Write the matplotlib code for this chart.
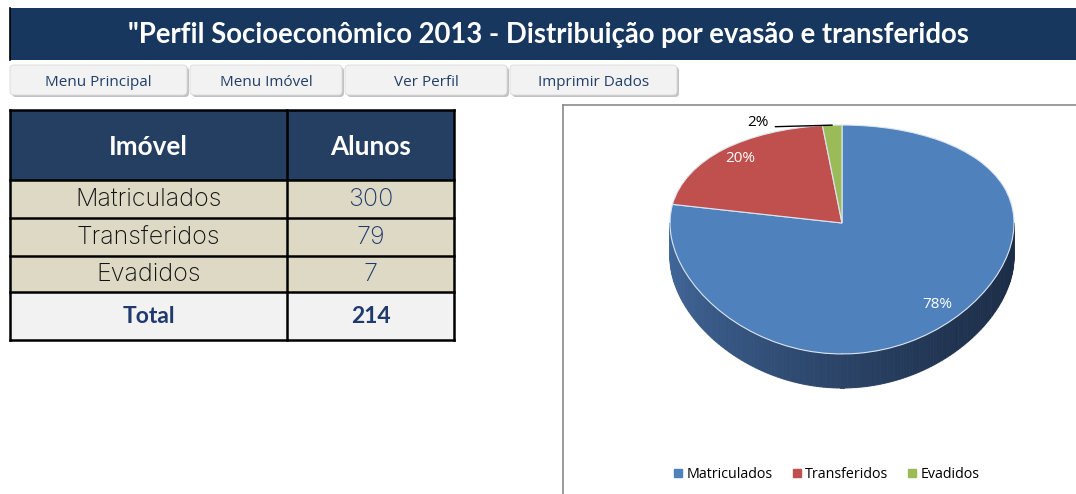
import numpy as np
import matplotlib
matplotlib.use("Agg")
import matplotlib.pyplot as plt
from matplotlib.patches import Rectangle, FancyBboxPatch
from matplotlib.collections import PolyCollection
from matplotlib.lines import Line2D
from matplotlib.colors import to_rgb

# --- data -------------------------------------------------------------
title = '"Perfil Socioeconômico 2013 - Distribuição por evasão e transferidos'
buttons = ["Menu Principal", "Menu Imóvel", "Ver Perfil", "Imprimir Dados"]
header = ["Imóvel", "Alunos"]
categories = ["Matriculados", "Transferidos", "Evadidos"]
alunos = [300, 79, 7]
total_label = "Total"
total_value = 214
colors = ["#4f81bd", "#c0504d", "#9bbb59"]

W, H = 1076, 494
fig = plt.figure(figsize=(W / 100, H / 100), dpi=100)

# background axes in pixel units for the sheet decoration
bg = fig.add_axes([0, 0, 1, 1])
bg.set_xlim(0, W)
bg.set_ylim(H, 0)
bg.axis("off")

# title bar
bg.add_patch(Rectangle((10, 8), W - 10, 52, facecolor="#17375e", edgecolor="none"))
bg.plot([9.5, 9.5], [8, 60], color="black", lw=1.2)
bg.text(548, 35, title, color="white", fontsize=19.8, fontweight="bold",
        family="Lato", ha="center", va="center")

# buttons
btn_x = [10, 190, 345, 510]
btn_w = [177, 152, 162, 167]
for x, w, label in zip(btn_x, btn_w, buttons):
    bg.add_patch(FancyBboxPatch((x + 2, 67), w, 30, boxstyle="round,pad=0,rounding_size=4",
                                facecolor="#c2c2c2", edgecolor="none"))
    bg.add_patch(FancyBboxPatch((x, 65), w, 30, boxstyle="round,pad=0,rounding_size=4",
                                facecolor="#f2f2f2", edgecolor="#dadada", lw=0.6))
    bg.text(x + w / 2, 82, label, color="#213f68", fontsize=11, family="Open Sans",
            ha="center", va="center")

# table
col_x = [10, 287, 454]
row_y = [110, 180, 218, 256, 292, 340]
fills = ["#243f61", "#ddd9c4", "#ddd9c4", "#ddd9c4", "#f2f2f2"]
for i, fc in enumerate(fills):
    bg.add_patch(Rectangle((col_x[0], row_y[i]), col_x[-1] - col_x[0], row_y[i + 1] - row_y[i],
                           facecolor=fc, edgecolor="none"))
for y in row_y:
    bg.plot([col_x[0], col_x[-1]], [y, y], color="black", lw=1.8, solid_capstyle="projecting")
for x in col_x:
    bg.plot([x, x], [row_y[0], row_y[-1]], color="black", lw=1.8, solid_capstyle="projecting")

xc = [(col_x[0] + col_x[1]) / 2, (col_x[1] + col_x[2]) / 2]
yc = [(row_y[i] + row_y[i + 1]) / 2 for i in range(len(row_y) - 1)]
for x, h in zip(xc, header):
    bg.text(x, yc[0] + 2, h, color="white", fontsize=18.8, fontweight="bold", family="Lato",
            ha="center", va="center")
for i, (cat, val) in enumerate(zip(categories, alunos)):
    bg.text(xc[0], yc[i + 1], cat, color="#111111", fontsize=18, fontweight="light",
            family="Inter", ha="center", va="center")
    bg.text(xc[1], yc[i + 1], str(val), color="#1f3a6e", fontsize=18, fontweight="light",
            family="Inter", ha="center", va="center")
bg.text(xc[0], yc[4], total_label, color="#1f3a6e", fontsize=16.5, fontweight="bold",
        family="Lato", ha="center", va="center")
bg.text(xc[1], yc[4], str(total_value), color="#1f3a6e", fontsize=16.5, fontweight="bold",
        family="Lato", ha="center", va="center")

# --- pie chart with a tilted look ------------------------------------
box_left, box_top = 563, 105
cx_px, tip_px = 842, 223
rx_px, ry_px = 172, 112.1
b = 0.144
depth = 34 / ry_px


def fwd(y):
    return y / (1 + b * y)


def inv(f):
    return f / (1 - b * f)


ax = fig.add_axes([box_left / W, 0, (W - box_left) / W, (H - box_top) / H])
wedges, _ = ax.pie(alunos, colors=colors, startangle=90, counterclock=False, radius=1,
                   wedgeprops=dict(edgecolor="#dce5f0", linewidth=0.8), frame=False)
ax.set_aspect("auto")
ax.set_yscale("function", functions=(fwd, inv))
ax.set_xlim((box_left - cx_px) / rx_px, (W - cx_px) / rx_px)
ax.set_ylim(inv((tip_px - H) / ry_px), inv((tip_px - box_top) / ry_px))
ax.set_xticks([])
ax.set_yticks([])
ax.set_yticks([], minor=True)

# side of the pie (front half), shaded from left to right
t = np.linspace(np.pi, 2 * np.pi, 160)
left_c, right_c = np.array(to_rgb("#41679a")), np.array(to_rgb("#1c2d47"))
polys, pcols = [], []
for t0, t1 in zip(t[:-1], t[1:]):
    xs = [np.cos(t0), np.cos(t1), np.cos(t1), np.cos(t0)]
    ys = [np.sin(t0), np.sin(t1), inv(fwd(np.sin(t1)) - depth), inv(fwd(np.sin(t0)) - depth)]
    polys.append(list(zip(xs, ys)))
    s = ((np.cos((t0 + t1) / 2) + 1) / 2) ** 0.7
    pcols.append(left_c * (1 - s) + right_c * s)
ax.add_collection(PolyCollection(polys, facecolors=pcols, edgecolors=pcols, linewidths=0.6,
                                 zorder=0.5))
tb = np.linspace(np.pi, 2 * np.pi, 200)
ax.plot(np.cos(tb), inv(fwd(np.sin(tb)) - depth), color="#a8a8a8", lw=1.2, alpha=0.6, zorder=0.4)

total = sum(alunos)
for w, v in zip(wedges, alunos):
    pct = 100 * v / total
    mid = np.deg2rad((w.theta1 + w.theta2) / 2)
    if pct >= 5:
        ax.text(0.86 * np.cos(mid), 0.86 * np.sin(mid), f"{pct:.0f}%", color="white",
                fontsize=11, family="Open Sans", ha="center", va="center")
    else:
        ax.annotate(f"{pct:.0f}%", xy=(np.cos(mid), np.sin(mid)), xytext=(-46, 2),
                    textcoords="offset points", ha="right", va="center", fontsize=11,
                    family="Open Sans", color="black",
                    arrowprops=dict(arrowstyle="-", color="black", lw=1, shrinkA=3, shrinkB=0,
                                    relpos=(1, 0.2)))

ax.set_frame_on(True)
for side in ["right", "bottom"]:
    ax.spines[side].set_visible(False)
for side in ["left", "top"]:
    ax.spines[side].set_color("#8a8a8a")
    ax.spines[side].set_linewidth(1.2)

handles = [Line2D([], [], marker="s", linestyle="none", markersize=6,
                  markerfacecolor=c, markeredgecolor=c) for c in colors]
ax.legend(handles, categories, loc="center", bbox_to_anchor=(0.513, 0.051), ncol=3,
          frameon=False, handletextpad=0.2, columnspacing=1.25, handlelength=0.8,
          prop=dict(family="Open Sans", size=10.3))

fig.savefig("out.png", dpi=100)
